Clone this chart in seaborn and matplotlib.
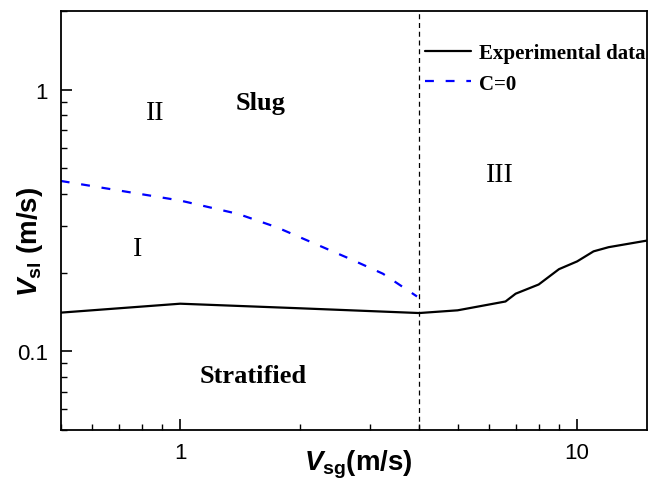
import numpy as np
import pandas as pd
import matplotlib
matplotlib.use("Agg")
import matplotlib.pyplot as plt
import matplotlib.ticker as mticker
from matplotlib.lines import Line2D
import seaborn as sns

# ---- data ----
exp_vsg = [0.5, 1.0, 2.0, 4.0, 5.0, 6.6, 7.0, 8.0, 9.0, 10.0, 11.0, 12.0, 15.0]
exp_vsl = [0.1405, 0.152, 0.146, 0.140, 0.1434, 0.155, 0.166, 0.180, 0.206, 0.2206, 0.241, 0.250, 0.265]
c0_vsg = [0.5, 0.7, 1.0, 1.4, 1.75, 2.67, 3.24, 3.95]
c0_vsl = [0.448, 0.412, 0.377, 0.335, 0.298, 0.226, 0.198, 0.162]
boundary_vsg = 4.0
x_ticks = [1, 10]
x_tick_labels = ["1", "10"]
y_ticks = [0.1, 1]
y_tick_labels = ["0.1", "1"]
legend_labels = ["Experimental data", "C=0"]

sns.set_style("ticks")
plt.rcParams["font.family"] = ["Liberation Sans", "DejaVu Sans"]
plt.rcParams["mathtext.fontset"] = "custom"
plt.rcParams["mathtext.it"] = "Liberation Sans:italic:bold"
plt.rcParams["mathtext.rm"] = "Liberation Sans:bold"
plt.rcParams["mathtext.bf"] = "Liberation Sans:bold"
plt.rcParams["text.color"] = "black"
plt.rcParams["axes.labelcolor"] = "black"
plt.rcParams["xtick.color"] = "black"
plt.rcParams["ytick.color"] = "black"

df_exp = pd.DataFrame({"vsg": exp_vsg, "vsl": exp_vsl})
df_c0 = pd.DataFrame({"vsg": c0_vsg, "vsl": c0_vsl})

fig = plt.figure(figsize=(6.48, 4.81), dpi=100)
ax = fig.add_axes([0.0937, 0.104, 0.9048, 0.871])

sns.lineplot(data=df_exp, x="vsg", y="vsl", ax=ax, color="black", lw=1.6)
sns.lineplot(data=df_c0, x="vsg", y="vsl", ax=ax, color="#0000ff", lw=1.6,
             linestyle=(0, (4, 5.3)))
ax.axvline(boundary_vsg, color="black", lw=0.9, linestyle=(0, (4, 3)))

ax.set_xscale("log")
ax.set_yscale("log")
ax.set_xlim(0.5, 15)
ax.set_ylim(0.05, 2)

ax.set_xticks(x_ticks)
ax.set_xticklabels(x_tick_labels)
ax.set_yticks(y_ticks)
ax.set_yticklabels(y_tick_labels)
ax.xaxis.set_minor_locator(mticker.LogLocator(base=10, subs=np.arange(2, 10)))
ax.yaxis.set_minor_locator(mticker.LogLocator(base=10, subs=np.arange(2, 10)))
ax.xaxis.set_minor_formatter(mticker.NullFormatter())
ax.yaxis.set_minor_formatter(mticker.NullFormatter())
ax.tick_params(which="major", direction="in", length=8, width=1.2, labelsize=16, pad=9,
               colors="black", labelcolor="black")
ax.tick_params(which="minor", direction="in", length=4.5, width=1.0, colors="black")

for s in ax.spines.values():
    s.set_linewidth(1.3)
    s.set_color("black")

ax.set_xlabel(r"$V_{\mathrm{sg}}$(m/s)", fontsize=20, fontweight="bold", color="black")
ax.set_ylabel(r"$V_{\mathrm{sl}}$ (m/s)", fontsize=20, fontweight="bold", color="black")
ax.xaxis.set_label_coords(0.507, -0.043)
ax.yaxis.set_label_coords(-0.027, 0.451)

serif = ["Liberation Serif", "DejaVu Serif"]
ax.text(0.866, 0.822, "II", fontsize=20, family=serif, ha="center", va="center")
ax.text(1.597, 0.89, "Slug", fontsize=19, family=serif, fontweight="bold", ha="center", va="center")
ax.text(6.4, 0.4725, "III", fontsize=20, family=serif, ha="center", va="center")
ax.text(0.78, 0.2466, "I", fontsize=20, family=serif, ha="center", va="center")
ax.text(1.525, 0.0807, "Stratified", fontsize=19, family=serif, fontweight="bold", ha="center", va="center")

handles = [Line2D([], [], color="black", lw=1.6),
           Line2D([], [], color="#0000ff", lw=1.6, linestyle=(0, (4, 5.3)))]
ax.legend(handles, legend_labels, loc="upper right", bbox_to_anchor=(0.998, 0.923),
          frameon=False, borderpad=0, borderaxespad=0, handlelength=2.25,
          handletextpad=0.38, labelspacing=0.5,
          prop={"family": serif, "weight": "bold", "size": 15})

fig.savefig("out.png", dpi=100)
